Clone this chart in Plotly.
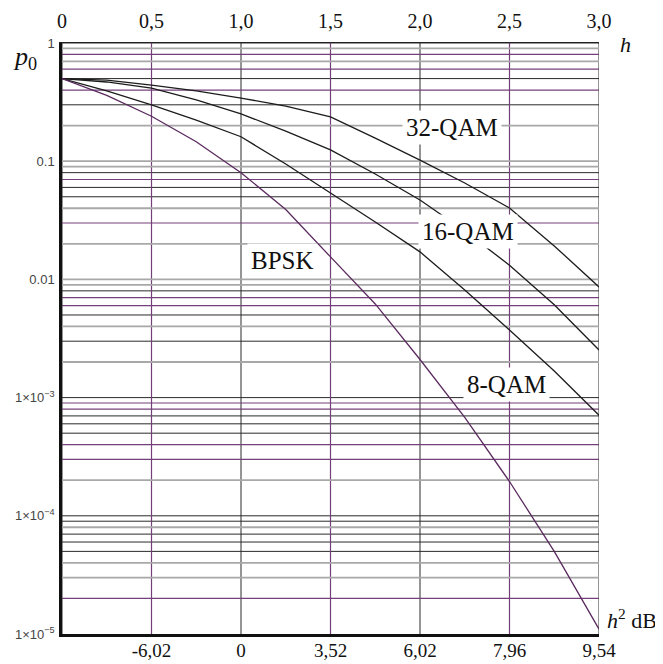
import plotly.graph_objects as go

# ---------------- data ----------------
h_values = [0, 0.25, 0.5, 0.75, 1.0, 1.25, 1.5, 1.75, 2.0, 2.25, 2.5, 2.75, 3.0]
bpsk = [0.5, 0.36, 0.24, 0.146, 0.080, 0.039, 0.0155, 0.0062, 0.0021, 6.8e-4, 1.95e-4, 5.0e-5, 1.1e-5]
qam8 = [0.5, 0.393, 0.299, 0.223, 0.161, 0.0947, 0.0538, 0.0306, 0.0171, 0.00813, 0.00373, 0.00168, 7.1e-4]
qam16 = [0.5, 0.468, 0.416, 0.330, 0.251, 0.180, 0.1245, 0.0780, 0.0470, 0.0257, 0.0132, 0.0061, 0.00253]
qam32 = [0.5, 0.486, 0.441, 0.393, 0.342, 0.293, 0.237, 0.157, 0.102, 0.0654, 0.0402, 0.0192, 0.00863]

h_ticks = [0, 0.5, 1.0, 1.5, 2.0, 2.5, 3.0]
h_tick_labels = ["0", "0,5", "1,0", "1,5", "2,0", "2,5", "3,0"]
db_ticks = [0.5, 1.0, 1.5, 2.0, 2.5, 3.0]
db_tick_labels = ["-6,02", "0", "3,52", "6,02", "7,96", "9,54"]
p_ticks = [1e-5, 1e-4, 1e-3, 1e-2, 1e-1, 1]
p_tick_labels = ["1×10<sup>−5</sup>", "1×10<sup>−4</sup>", "1×10<sup>−3</sup>", "0.01", "0.1", "1"]

# grid-line styling (per decade, multipliers 9..2, then decade line)
decade_exponents = [-1, -2, -3, -4, -5]
minor_multipliers = [9, 8, 7, 6, 5, 4, 3, 2]
decade_styles = {
    -1: ["g", "p", "g", "p", "k", "p", "k", "g"],
    -2: ["g", "k", "p", "k", "k", "g", "p", "g"],
    -3: ["g", "k", "p", "p", "k", "g", "k", "g"],
    -4: ["p", "p", "k", "k", "k", "p", "p", "g"],
    -5: ["k", "g", "k", "k", "k", "g", "g", "p"],
}
decade_line_styles = {-1: "g", -2: "g", -3: "k", -4: "k", 0: "k"}
vertical_styles = ["k", "p", "k", "p", "k", "p", "k"]

STYLE = {
    "k": dict(color="#2a2a2a", width=1),
    "p": dict(color="#74407a", width=1.2),
    "g": dict(color="#a8a8a8", width=1.8),
}

fig = go.Figure()

# horizontal grid lines
groups = {"k": ([], []), "p": ([], []), "g": ([], [])}
for e in decade_exponents:
    for m, s in zip(minor_multipliers, decade_styles[e]):
        v = m * 10.0 ** e
        xs, ys = groups[s]
        xs += [h_ticks[0], h_ticks[-1], None]
        ys += [v, v, None]
for e, s in decade_line_styles.items():
    v = 10.0 ** e
    xs, ys = groups[s]
    xs += [h_ticks[0], h_ticks[-1], None]
    ys += [v, v, None]
# vertical grid lines
for hv, s in zip(h_ticks, vertical_styles):
    xs, ys = groups[s]
    xs += [hv, hv, None]
    ys += [p_ticks[0], p_ticks[-1], None]

for s, (xs, ys) in groups.items():
    fig.add_trace(go.Scatter(x=xs, y=ys, mode="lines", line=STYLE[s],
                             hoverinfo="skip", showlegend=False, cliponaxis=False))

# curves
curve_defs = [
    ("32-QAM", qam32, "#1c1c1c"),
    ("16-QAM", qam16, "#1c1c1c"),
    ("8-QAM", qam8, "#1c1c1c"),
    ("BPSK", bpsk, "#5a2a5e"),
]
for name, vals, col in curve_defs:
    fig.add_trace(go.Scatter(x=h_values, y=vals, mode="lines", name=name,
                             line=dict(color=col, width=1.3), showlegend=False))

# invisible trace to carry the bottom (dB) axis
fig.add_trace(go.Scatter(x=[h_ticks[0], h_ticks[-1]], y=[1, 1], xaxis="x2", mode="lines",
                         line=dict(width=0), hoverinfo="skip", showlegend=False))

serif = "Liberation Serif"
label_font = dict(family=serif, size=25, color="#111")
for txt, x, ylog in [("32-QAM", 2.177, -0.719), ("16-QAM", 2.268, -1.596),
                     ("8-QAM", 2.486, -2.893), ("BPSK", 1.232, -1.840)]:
    fig.add_annotation(x=x, y=ylog, xref="x", yref="y", text=txt, showarrow=False,
                       xanchor="center", yanchor="middle",
                       font=label_font, bgcolor="white", borderpad=3)

fig.add_annotation(x=-0.069, y=0.975, xref="paper", yref="paper", showarrow=False,
                   xanchor="center", yanchor="middle",
                   text="<i>p</i><sub>0</sub>", font=dict(family=serif, size=26, color="#111"))
fig.add_annotation(x=1.05, y=0.997, xref="paper", yref="paper", showarrow=False,
                   xanchor="center", yanchor="middle",
                   text="<i>h</i>", font=dict(family=serif, size=22, color="#111"))
fig.add_annotation(x=1.012, y=0.026, xref="paper", yref="paper", showarrow=False,
                   xanchor="left", yanchor="middle", text="<i>h</i><sup>2</sup> dB",
                   font=dict(family=serif, size=22, color="#111"))

tick_font = dict(family=serif, size=20, color="#111")
fig.update_layout(
    width=655, height=656,
    margin=dict(l=54, r=64, t=35, b=30, autoexpand=False),
    paper_bgcolor="white", plot_bgcolor="white",
    showlegend=False,
    xaxis=dict(side="top", range=[h_ticks[0], h_ticks[-1]], tickvals=h_ticks, ticktext=h_tick_labels,
               showgrid=False, zeroline=False, ticks="", tickfont=tick_font, automargin=False,
               ticklabelstandoff=6, showline=True, linewidth=1, linecolor="#222"),
    xaxis2=dict(overlaying="x", side="bottom", anchor="y", range=[h_ticks[0], h_ticks[-1]],
                tickvals=db_ticks, ticktext=db_tick_labels, showgrid=False, zeroline=False,
                ticks="", tickfont=dict(family=serif, size=19, color="#111"),
                ticklabelstandoff=-3, automargin=False,
                showline=True, linewidth=2.5, linecolor="#111"),
    yaxis=dict(type="log", range=[-5, 0], tickvals=p_ticks, ticktext=p_tick_labels,
               showgrid=False, zeroline=False, ticks="", automargin=False,
               tickfont=dict(family="Liberation Sans", size=13, color="#444"),
               ticklabelstandoff=2, showline=True, linewidth=2.5, linecolor="#111"),
)

fig.write_html("out.html")
